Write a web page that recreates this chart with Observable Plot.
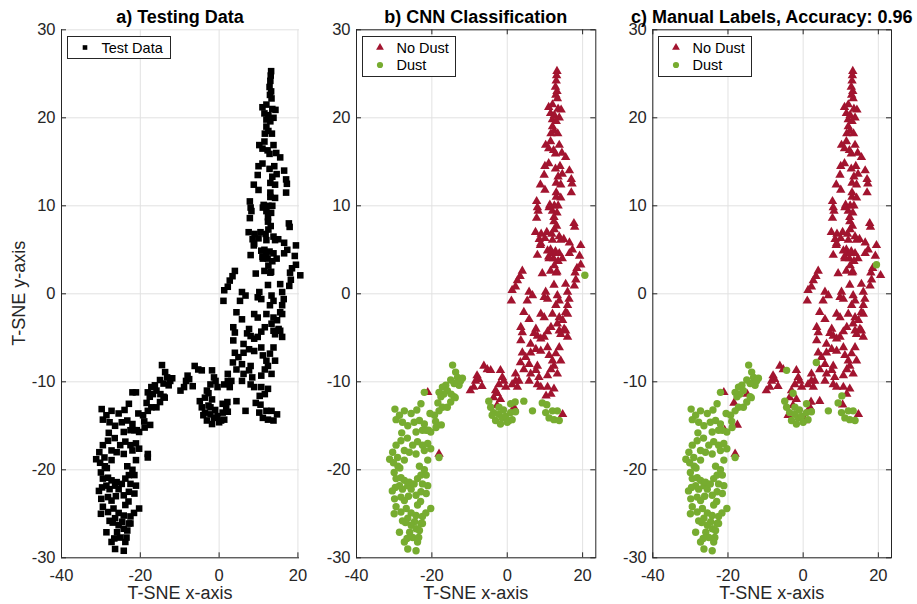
<!DOCTYPE html>
<html>
<head>
<meta charset="utf-8">
<script src="https://cdn.jsdelivr.net/npm/d3@7"></script>
<script src="https://cdn.jsdelivr.net/npm/@observablehq/plot@0.6"></script>
<style>
  html, body { margin: 0; padding: 0; background: #fff; }
  #root { position: relative; width: 917px; height: 604px; overflow: hidden; font-family: "Liberation Sans", Arial, Helvetica, sans-serif; }
  .panel { position: absolute; top: 0; }
  #overlay { position: absolute; left: 0; top: 0; pointer-events: none; }
</style>
</head>
<body>
<div id="root"></div>
<script>
// ---------------- data (t-SNE coordinates) ----------------
// No Dust according to both the CNN and the manual labels
const noDustBoth = [
  [13.2,25.3],[13.1,24.8],[13.0,24.2],[12.8,23.5],[13.2,23.0],[12.9,22.6],[13.3,22.2],
  [11.0,21.2],[12.0,21.5],[13.5,21.0],[14.3,20.9],[11.5,20.5],[12.5,20.3],[13.8,20.0],
  [12.0,19.8],[13.0,19.6],[12.0,19.0],[12.5,18.5],[11.6,18.2],[13.4,18.2],
  [11.5,17.3],[10.2,16.9],[11.0,16.5],[12.3,16.3],[13.8,16.9],[14.5,16.0],[12.8,15.9],[15.5,15.5],
  [10.0,14.5],[11.0,14.8],[12.8,14.2],[14.0,14.5],[16.5,14.0],[9.8,13.5],[13.5,13.3],[14.6,13.6],
  [17.0,13.0],[17.2,12.5],[13.0,12.6],[14.2,12.4],[8.8,12.4],[10.0,11.8],[13.0,11.5],[17.0,11.5],
  [13.0,11.0],[14.2,10.9],
  [7.8,10.5],[8.0,9.8],[11.3,10.1],[12.5,10.0],[13.5,10.0],[12.0,9.4],[13.2,9.2],[7.8,8.6],
  [17.7,8.0],[17.9,7.6],[12.4,8.2],[13.1,7.7],
  [7.5,7.0],[9.0,6.8],[10.5,7.0],[11.8,6.8],[12.5,7.3],[13.8,6.5],[15.0,6.2],[16.5,5.8],[8.5,6.2],[8.8,5.5],[19.5,5.5],
  [10.0,6.3],[12.0,6.1],[12.0,4.6],[14.6,4.0],
  [11.5,5.0],[12.8,4.8],[13.8,4.6],[11.0,4.2],[12.3,4.0],[13.5,3.7],[16.5,4.6],[19.2,4.3],[8.0,4.4],
  [12.5,3.2],[11.5,2.6],[13.0,2.4],[18.5,2.9],[18.0,2.4],
  [4.0,2.6],[9.3,2.3],[13.2,2.5],[2.7,1.5],[2.2,0.8],
  [8.2,9.4],[11.1,9.8],[12.4,8.7],[8.9,5.7],[14.2,6.1],[17.3,5.0],[10.7,4.9],[11.1,4.0],[3.4,2.0],[9.8,-0.4],
  [1.3,0.4],[1.1,-0.8],[5.8,0.2],[5.3,-0.8],[6.7,-0.2],[10.2,0.2],[10.7,-0.6],[12.4,1.0],[13.3,-0.2],[13.8,-0.8],
  [15.5,1.1],[16.0,0.2],[16.4,-0.6],[17.8,0.9],[18.2,1.6],[16.0,-1.3],[15.5,-2.1],[12.9,-1.3],
  [4.4,-2.1],[5.8,-2.9],[8.9,-2.3],[9.8,-2.7],[12.0,-2.3],[13.8,-2.7],[14.7,-3.0],[16.0,-2.3],
  [4.0,-4.4],[3.6,-5.3],[6.2,-5.7],[7.6,-4.0],[8.0,-4.8],[8.9,-5.1],[9.8,-4.9],[11.6,-3.8],[13.3,-3.4],
  [13.8,-4.2],[14.2,-4.6],[15.5,-4.2],[16.0,-4.9],[3.6,-3.8],[7.1,-4.5],[10.7,-4.3],[15.1,-4.0],
  [4.0,-6.7],[4.9,-7.2],[6.2,-6.7],[7.6,-6.3],[8.9,-6.5],[10.7,-6.1],[11.1,-7.0],[12.9,-6.8],[13.8,-6.1],[12.0,-7.6],[14.2,-7.6],
  [4.4,-8.6],[5.8,-8.0],[7.6,-8.7],[8.0,-8.2],[11.6,-8.6],[12.4,-8.2],[13.3,-9.1],[10.7,-9.3],[6.2,-9.1],[2.2,-9.1],
  [3.1,-9.9],[5.8,-9.9],[8.0,-10.3],[8.9,-10.6],[10.7,-10.6],[12.4,-10.8],[8.4,-9.5],[11.6,-11.4],
  [-6.2,-8.2],[-5.3,-8.6],[-8.0,-9.3],[-7.6,-9.7],[-8.9,-10.6],[-6.7,-10.5],[-9.8,-11.0],[-8.4,-9.9],
  [-1.8,-8.7],[-1.3,-9.5],[-0.9,-9.9],[-0.4,-10.6],[-2.2,-10.3],[-3.1,-11.0],[-3.6,-11.8],[-1.8,-12.0],
  [2.2,-9.9],[1.3,-10.3],[2.7,-10.6],
  [-2.7,-12.7],[1.8,-12.9],[14.7,-13.7],[-21.1,-11.2],[-18.1,-18.2]
];
// Dust according to both
const dustBoth = [
  [-4.9,-12.2],[-4.4,-12.9],[-3.6,-13.5],[-2.2,-13.7],[-1.3,-14.1],[-0.4,-13.9],[1.3,-14.3],[-3.1,-14.4],
  [-1.8,-14.8],[0.0,-14.6],[0.9,-13.5],[2.2,-13.4],[0.9,-12.5],[-2.2,-12.9],[-1.0,-13.2],
  [6.7,-13.3],[9.3,-12.4],[10.2,-13.5],[12.0,-13.3],[13.3,-13.3],[11.1,-14.1],[12.4,-14.3],[13.8,-14.4],
  [-14.5,-8.1],[-13.7,-8.9],[-13.2,-9.5],[-11.9,-9.6],[-12.8,-10.4],[-14.1,-10.2],[-15.0,-9.8],[-16.3,-10.4],
  [-17.2,-10.6],[-15.9,-11.0],[-16.8,-11.4],[-18.1,-11.2],[-17.6,-11.7],[-14.1,-11.7],[-12.4,-9.9],[-13.8,-11.8],
  [-22.0,-11.2],
  [-17.2,-12.9],[-18.1,-13.3],[-15.9,-12.9],[-15.0,-12.3],
  [-22.9,-12.5],[-27.3,-13.3],[-25.5,-13.6],[-28.6,-13.8],[-27.8,-14.6],[-26.4,-15.0],[-24.7,-14.6],[-23.3,-14.4],
  [-22.0,-14.8],[-21.5,-15.5],[-20.3,-15.7],[-18.9,-15.2],[-19.3,-13.8],[-22.5,-15.5],[-24.2,-15.7],
  [-29.8,-13.1],[-29.5,-14.3],[-24.0,-13.2],[-20.5,-13.6],[-19.0,-14.5],
  [-28.2,-16.7],[-29.5,-17.2],[-30.4,-18.0],[-31.2,-18.8],[-29.1,-18.6],[-27.3,-17.8],[-26.0,-18.0],[-25.1,-17.2],
  [-23.8,-16.8],[-22.5,-17.2],[-21.1,-17.0],[-20.3,-17.6],[-22.0,-17.8],[-24.2,-18.2],[-27.3,-18.9],[-21.1,-18.9],
  [-18.1,-18.6],[-29.0,-19.6],[-26.5,-16.4],[-28.0,-15.8],[-30.2,-19.2],[-28.5,-19.8],
  [-30.0,-20.3],[-29.5,-21.0],[-28.2,-20.9],[-27.3,-21.2],[-28.6,-21.8],[-27.8,-22.2],[-26.4,-21.8],[-25.5,-22.2],
  [-26.0,-21.4],[-24.7,-21.6],[-23.8,-21.0],[-22.9,-20.6],[-23.3,-19.6],[-22.0,-20.0],[-21.5,-20.6],[-21.1,-21.8],
  [-22.5,-21.6],[-22.9,-22.5],[-24.2,-22.9],[-21.5,-22.7],[-29.7,-22.0],[-26.2,-23.0],[-23.0,-23.6],
  [-29.9,-23.3],[-28.2,-23.1],[-27.3,-23.5],[-29.5,-24.2],[-28.2,-24.8],[-26.8,-24.4],[-25.5,-24.9],[-26.4,-25.5],
  [-24.6,-25.9],[-24.2,-25.2],[-23.8,-24.0],[-22.5,-25.3],[-21.6,-24.9],[-20.3,-24.4],[-22.9,-26.1],[-25.5,-26.3],
  [-24.2,-26.7],[-25.9,-27.1],[-23.3,-26.9],[-25.1,-27.7],[-23.8,-28.2],[-27.3,-28.2],[-26.4,-29.0],[-24.2,-29.2],
  [-28.6,-27.1],[-22.5,-26.1],[-30.5,-22.4],[-27.0,-26.0],[-30.0,-25.0],[-27.8,-25.8],[-23.5,-27.7],[-26.6,-27.8]
];
// CNN says Dust, manual label says No Dust
const cnnDustOnly = [
  [20.6,2.1],[10.5,-12.6],[-18.4,-12.4],[-17.5,-14.9],[-20.9,-15.5],[-14.9,-11.4],[-4.0,-13.8],[2.1,-12.3],[4.4,-12.2],[0.5,-14.4]
];
// CNN says No Dust, manual label says Dust
const manualDustOnly = [
  [19.5,3.3],[3.5,-7.8],[-4.4,-8.7],[-2.7,-11.3],[10.3,-11.6]
];

const xTicks = [-40, -20, 0, 20];
const yTicks = [-30, -20, -10, 0, 10, 20, 30];
const titles = ["a) Testing Data", "b) CNN Classification", "c) Manual Labels, Accuracy: 0.96"];
const legendA = ["Test Data"];
const legendBC = ["No Dust", "Dust"];
const xLabel = "T-SNE x-axis";
const yLabel = "T-SNE y-axis";

// ---------------- drawing ----------------
const RED = "#a2142f", GREEN = "#77ac30", AX = "#262626", GRID = "#e2e2e2";
const FONT = "'Liberation Sans', Arial, Helvetica, sans-serif";
const TOP = 29.3, BOTTOM = 557.3, H = 604;
const R_SQ = 3.7, R_TRI = 3.5, R_CIR = 3.7;

const pt = ([x, y]) => ({x, y});
const allPts = [...noDustBoth, ...dustBoth, ...cnnDustOnly, ...manualDustOnly].map(pt);
const cnnNo = [...noDustBoth, ...manualDustOnly].map(pt);
const cnnYes = [...dustBoth, ...cnnDustOnly].map(pt);
const manNo = [...noDustBoth, ...cnnDustOnly].map(pt);
const manYes = [...dustBoth, ...manualDustOnly].map(pt);

const root = document.getElementById("root");

function panel({left, width, plotLeft, plotRight, xMax, box, layers}) {
  const ml = plotLeft - left, mr = left + width - plotRight;
  const pw = plotRight - plotLeft, ph = BOTTOM - TOP;
  const marks = [
    Plot.gridX(xTicks, {stroke: GRID, strokeOpacity: 1}),
    Plot.gridY(yTicks, {stroke: GRID, strokeOpacity: 1}),
    ...layers,
    Plot.tickX(xTicks, {x: d => d, stroke: AX, insetTop: ph - 5}),
    Plot.tickY(yTicks, {y: d => d, stroke: AX, insetRight: pw - 5}),
    Plot.axisX({ticks: xTicks, tickSize: 0, tickPadding: 11, label: null, tickFormat: d => String(d), fill: AX, fontSize: 16.5}),
    Plot.axisY({ticks: yTicks, tickSize: 0, tickPadding: 6, label: null, tickFormat: d => String(d), fill: AX, fontSize: 16.5})
  ];
  if (box) {
    marks.push(
      Plot.tickX(xTicks, {x: d => d, stroke: AX, insetBottom: ph - 5}),
      Plot.tickY(yTicks, {y: d => d, stroke: AX, insetLeft: pw - 5}),
      Plot.frame({stroke: AX})
    );
  } else {
    marks.push(Plot.ruleX([-40], {stroke: AX}), Plot.ruleY([-30], {stroke: AX}));
  }
  const svg = Plot.plot({
    width, height: H,
    marginLeft: ml, marginRight: mr, marginTop: TOP, marginBottom: H - BOTTOM,
    x: {domain: [-40, xMax]},
    y: {domain: [-30, 30]},
    style: {fontFamily: FONT, fontSize: "16.5px", color: AX, background: "transparent", overflow: "visible"},
    marks
  });
  const div = document.createElement("div");
  div.className = "panel";
  div.style.left = left + "px";
  div.style.width = width + "px";
  div.appendChild(svg);
  root.appendChild(div);
}

panel({left: 0, width: 305, plotLeft: 61, plotRight: 299, xMax: 20.4, box: false,
  layers: [Plot.dot(allPts, {x: "x", y: "y", symbol: "square", r: R_SQ, fill: "#000"})]});
panel({left: 300, width: 302, plotLeft: 356, plotRight: 595.3, xMax: 23.5, box: true,
  layers: [
    Plot.dot(cnnNo, {x: "x", y: "y", symbol: "triangle", r: R_TRI, fill: RED}),
    Plot.dot(cnnYes, {x: "x", y: "y", symbol: "circle", r: R_CIR, fill: GREEN})
  ]});
panel({left: 600, width: 317, plotLeft: 652.3, plotRight: 891, xMax: 23.5, box: true,
  layers: [
    Plot.dot(manNo, {x: "x", y: "y", symbol: "triangle", r: R_TRI, fill: RED}),
    Plot.dot(manYes, {x: "x", y: "y", symbol: "circle", r: R_CIR, fill: GREEN})
  ]});

// ---------------- titles, axis labels, legends ----------------
const ov = d3.select(root).append("svg").attr("id", "overlay")
  .attr("width", 917).attr("height", H)
  .style("font-family", FONT);

const centers = [180, 475.7, 771.7];
titles.forEach((t, i) => {
  ov.append("text").attr("x", centers[i]).attr("y", 22.5).attr("text-anchor", "middle")
    .attr("font-size", 18).attr("font-weight", "bold").attr("fill", "#000").text(t);
  ov.append("text").attr("x", centers[i]).attr("y", 599).attr("text-anchor", "middle")
    .attr("font-size", 18).attr("fill", AX).text(xLabel);
});
ov.append("text").attr("transform", "translate(25,293.3) rotate(-90)")
  .attr("text-anchor", "middle").attr("font-size", 18).attr("fill", AX).text(yLabel);

const sym = (type, r) => d3.symbol().type(type).size(Math.PI * r * r)();

// legend a
{
  const g = ov.append("g").attr("transform", "translate(67.5,36.5)");
  g.append("rect").attr("width", 103).attr("height", 22).attr("fill", "#fff").attr("stroke", AX);
  g.append("path").attr("d", sym(d3.symbolSquare, 2.6)).attr("transform", "translate(17.5,11)").attr("fill", "#000");
  g.append("text").attr("x", 34).attr("y", 11).attr("dy", "0.35em").attr("font-size", 14.5).attr("fill", "#000").text(legendA[0]);
}
// legends b and c
[362.5, 658.5].forEach(lx => {
  const g = ov.append("g").attr("transform", `translate(${lx},36.5)`);
  g.append("rect").attr("width", 93).attr("height", 40).attr("fill", "#fff").attr("stroke", AX);
  g.append("path").attr("d", sym(d3.symbolTriangle, 2.9)).attr("transform", "translate(17.5,11)").attr("fill", RED);
  g.append("path").attr("d", sym(d3.symbolCircle, 3.1)).attr("transform", "translate(17.5,28.5)").attr("fill", GREEN);
  g.append("text").attr("x", 34).attr("y", 11).attr("dy", "0.35em").attr("font-size", 14.5).attr("fill", "#000").text(legendBC[0]);
  g.append("text").attr("x", 34).attr("y", 28.5).attr("dy", "0.35em").attr("font-size", 14.5).attr("fill", "#000").text(legendBC[1]);
});
</script>
</body>
</html>
